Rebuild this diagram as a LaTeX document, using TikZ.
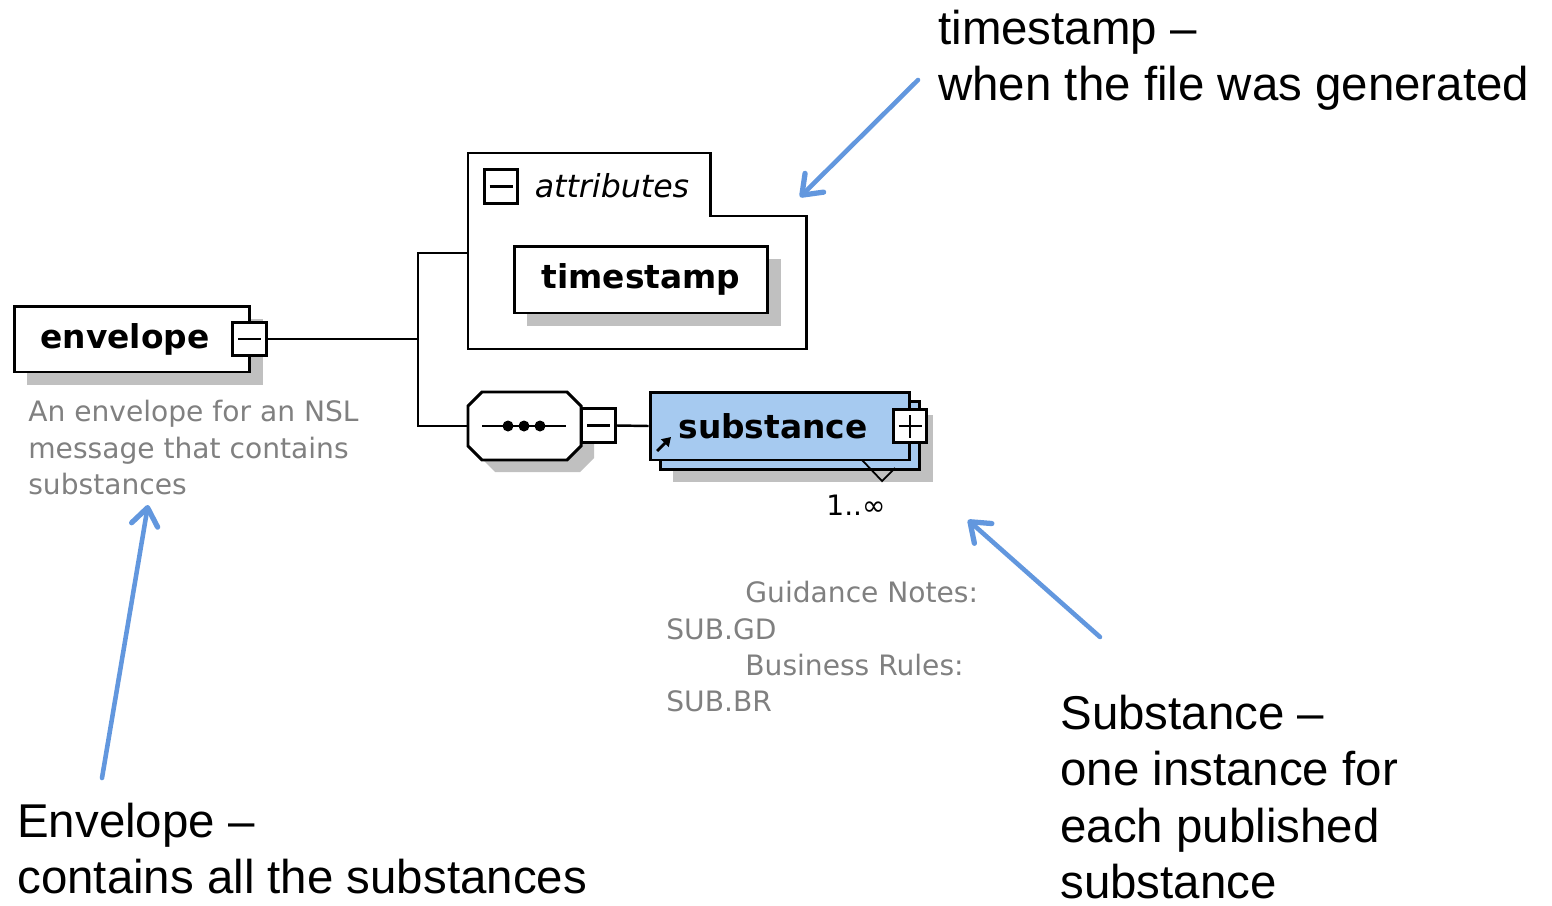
\documentclass[tikz,border=0pt]{standalone}
\usepackage{fontspec}
\setmainfont{Liberation Sans}
\newfontfamily\pixfont{DejaVu Sans}
\usepackage{tikz}
\usetikzlibrary{shadows, arrows.meta}
\definecolor{callout}{RGB}{98,151,222}
\definecolor{subfill}{RGB}{166,202,240}
\definecolor{dropgray}{RGB}{192,192,192}
\definecolor{note}{RGB}{128,128,128}

\tikzset{
  elem/.style={draw, line width=1.7pt, fill=white, inner sep=0pt,
    font=\pixfont\bfseries\fontsize{18.7}{22}\selectfont},
  shadowed/.style={general shadow={fill=dropgray, shadow xshift=0.26cm, shadow yshift=-0.26cm}},
  pmbox/.style={draw, line width=1.7pt, fill=white, minimum size=0.67cm, inner sep=0pt},
  pm/.style={pmbox,
    path picture={\draw[line width=1.5pt] ([xshift=-0.23cm]path picture bounding box.center)
      -- ([xshift=0.23cm]path picture bounding box.center);}},
  plus/.style={pmbox,
    path picture={\draw[line width=1.5pt] ([xshift=-0.23cm]path picture bounding box.center)
      -- ([xshift=0.23cm]path picture bounding box.center);
      \draw[line width=1.5pt] ([yshift=-0.23cm]path picture bounding box.center)
      -- ([yshift=0.23cm]path picture bounding box.center);}},
  wire/.style={line width=1.4pt},
  callarrow/.style={callout, line width=2.6pt, line cap=round,
    -{Straight Barb[length=10pt,width=15pt,line width=3pt,round]}},
  bigtext/.style={anchor=north west, inner sep=0pt, align=left, font=\fontsize{27}{32}\selectfont},
  notetext/.style={anchor=north west, inner sep=0pt, align=left, text=note,
    font=\pixfont\fontsize{16}{20.7}\selectfont},
}

\begin{document}
\begin{tikzpicture}[x=0.02cm, y=-0.02cm]
\useasboundingbox (0,0) rectangle (1552,906);

% envelope element
\node[elem, shadowed, minimum width=4.72cm, minimum height=1.32cm] (envelope) at (132,339) {envelope\hspace{0.28cm}\mbox{}};
\node[pm] (envminus) at (249.5,339) {};
\node[notetext] (envnote) at (28,400) {An envelope for an NSL\\message that contains\\substances};

% attributes group
\draw[line width=1.7pt, fill=white] (468,153) -- (710,153) -- (710,216) -- (806,216) -- (806,349) -- (468,349) -- cycle;
\node[pm] (attrminus) at (501,186.5) {};
\node[font=\pixfont\itshape\fontsize{18}{22}\selectfont, inner sep=0pt] (attrlabel) at (612,186) {attributes};
\node[elem, shadowed, minimum width=5.08cm, minimum height=1.34cm] (timestamp) at (641,279.5) {timestamp};
\coordinate (attrin) at (468,253);

% sequence
\fill[dropgray] (495,404) -- (580,404) -- (594,418) -- (594,458) -- (580,472) -- (495,472) -- (481,458) -- (481,418) -- cycle;
\draw[line width=1.7pt, fill=white] (482,392) -- (567,392) -- (581,406) -- (581,446) -- (567,460) -- (482,460) -- (468,446) -- (468,406) -- cycle;
\coordinate (seqin) at (468,426);
\draw[wire] (482,426) -- (566,426);
\foreach \x in {508,524,540} \fill (\x,426) circle (0.11cm);
\node[pm] (seqminus) at (598.5,425.5) {};

% substance element
\node[elem, shadowed, fill=subfill, minimum width=5.2cm, minimum height=1.36cm] (subback) at (790,435.5) {};
\draw[line width=1pt] (862,460) -- (882,481) -- (895,468);
\node[elem, fill=subfill, minimum width=5.2cm, minimum height=1.36cm] (substance) at (780,426) {substance\hspace{0.28cm}\mbox{}};
\node[plus] (subplus) at (910,426) {};
\draw[line width=1.6pt, -{Triangle[length=5pt,width=6pt]}] (657,451) -- (671,437);
\node[font=\pixfont\fontsize{16}{20}\selectfont, inner sep=0pt] (card) at (856,505) {1..∞};
\node[notetext] (subnote) at (666,581) {\hspace*{45pt}Guidance Notes:\\SUB.GD\\\hspace*{45pt}Business Rules:\\SUB.BR};

% connectors
\coordinate (split) at (418,339);
\draw[wire] (envminus.east) -- (split);
\draw[wire] (attrin) -| (split);
\draw[wire] (seqin) -| (split);
\draw[wire] (seqminus.east) -- (substance.west);

% callouts
\node[bigtext] (tsnote) at (938,10) {timestamp --\\when the file was generated};
\node[bigtext] (envtext) at (17,803) {Envelope --\\contains all the substances};
\node[bigtext] (subtext) at (1060,695) {Substance --\\one instance for\\each published\\substance};
\coordinate (tsfrom) at (918,80);
\coordinate (tsto) at (800,197);
\coordinate (envfrom) at (102,778);
\coordinate (envto) at (148,505);
\coordinate (subfrom) at (1100,637);
\coordinate (subto) at (968,520);
\draw[callarrow] (tsfrom) -- (tsto);
\draw[callarrow] (envfrom) -- (envto);
\draw[callarrow] (subfrom) -- (subto);
\end{tikzpicture}
\end{document}
